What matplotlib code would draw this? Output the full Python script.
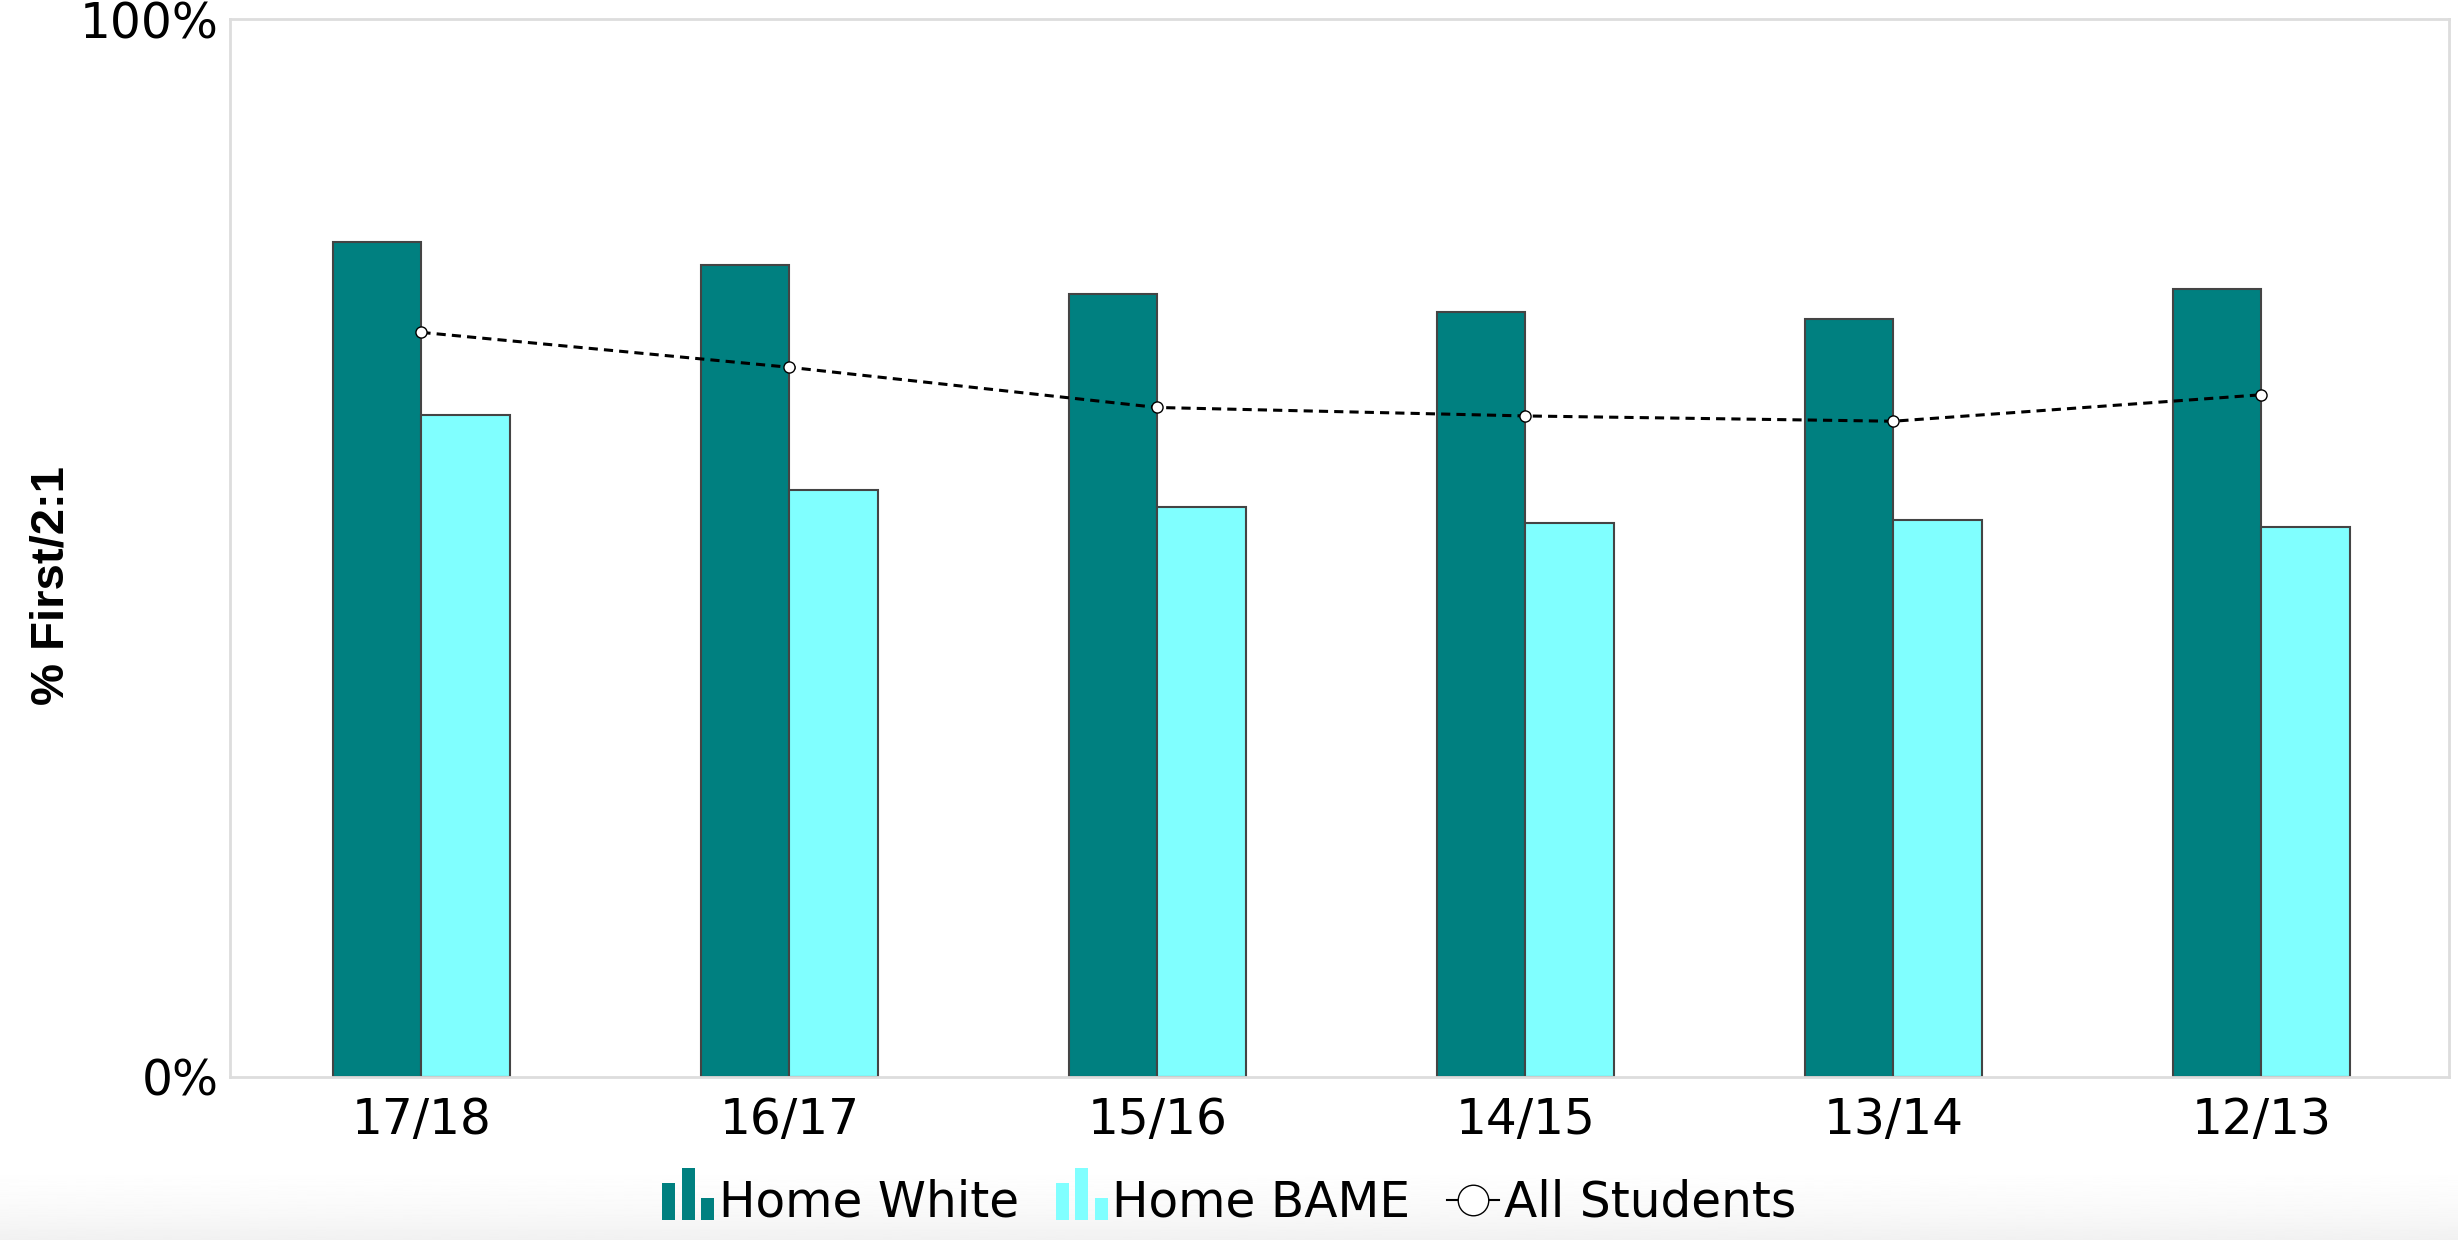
import matplotlib
matplotlib.use("Agg")
import matplotlib.pyplot as plt
import numpy as np
from matplotlib.legend_handler import HandlerBase
from matplotlib.patches import Rectangle
from matplotlib.lines import Line2D

years = ["17/18", "16/17", "15/16", "14/15", "13/14", "12/13"]
home_white = [78.9, 76.8, 74.0, 72.3, 71.7, 74.5]
home_bame = [62.6, 55.5, 53.9, 52.4, 52.7, 52.0]
all_students = [70.4, 67.1, 63.3, 62.5, 62.0, 64.5]

TEAL = "#008080"
CYAN = "#80ffff"
EDGE = "#444444"


class BarIconHandler(HandlerBase):
    # little three-bar icon like the one in the original legend
    def __init__(self, color):
        super().__init__()
        self.color = color

    def create_artists(self, legend, orig_handle, xdescent, ydescent, width, height, fontsize, trans):
        heights = [1.09, 1.53, 0.65]
        w = width / 4.0
        gap = (width - 3 * w) / 2
        base = -ydescent - 0.09 * height
        artists = []
        for i, h in enumerate(heights):
            r = Rectangle((-xdescent + i * (w + gap), base), w, h * height,
                          facecolor=self.color, edgecolor="none", transform=trans)
            artists.append(r)
        return artists


plt.rcParams["font.family"] = "DejaVu Sans"

fig = plt.figure(figsize=(24.58, 12.40), dpi=100)

# faint grey fade along the bottom edge
bg = fig.add_axes([0, 0, 1, 0.07], zorder=-5)
t = np.linspace(0, 1, 128)
grad = (1.0 - 0.055 * (1 - t) ** 2).reshape(-1, 1)
bg.imshow(grad, aspect="auto", cmap="gray", vmin=0, vmax=1, extent=(0, 1, 0, 1), origin="lower")
bg.axis("off")

ax = fig.add_axes([0.0936, 0.1315, 0.9027, 0.8529])

x = np.arange(len(years))
bw = 0.24
ax.bar(x - bw / 2, home_white, width=bw, color=TEAL, edgecolor=EDGE, linewidth=1.5, zorder=2)
ax.bar(x + bw / 2, home_bame, width=bw, color=CYAN, edgecolor=EDGE, linewidth=1.5, zorder=2)
ax.plot(x, all_students, color="black", linestyle=(0, (3, 2)), linewidth=2.2,
        marker="o", markersize=8, markerfacecolor="white", markeredgecolor="black",
        markeredgewidth=1.0, zorder=3)

ax.set_xlim(-0.52, 5.51)
ax.set_ylim(0, 100)
ax.set_xticks(x)
ax.set_xticklabels(years, fontsize=35)
ax.set_yticks([0, 100])
ax.set_yticklabels(["0%", "100%"], fontsize=35)
ax.tick_params(axis="both", length=0)
ax.tick_params(axis="x", pad=14)
ax.tick_params(axis="y", pad=8)

for s in ax.spines.values():
    s.set_color("#dddddd")
    s.set_linewidth(2)

fig.text(0.021, 0.528, "% First/2:1", rotation=90, fontsize=34, fontweight="bold",
         family="Liberation Sans", ha="center", va="center")

white_h = Rectangle((0, 0), 1, 1)
bame_h = Rectangle((0, 0), 1, 1)
all_h = Line2D([], [], color="black", linewidth=1.5, marker="o", markersize=22,
               markerfacecolor="white", markeredgecolor="black", markeredgewidth=1.0)
fig.legend([white_h, bame_h, all_h], ["Home White", "Home BAME", "All Students"],
           handler_map={white_h: BarIconHandler(TEAL), bame_h: BarIconHandler(CYAN)},
           loc="center", bbox_to_anchor=(0.5, 0.03), ncol=3, frameon=False, fontsize=35,
           handlelength=1.07, handletextpad=0.1, columnspacing=0.75)

fig.savefig("out.png", dpi=100)
